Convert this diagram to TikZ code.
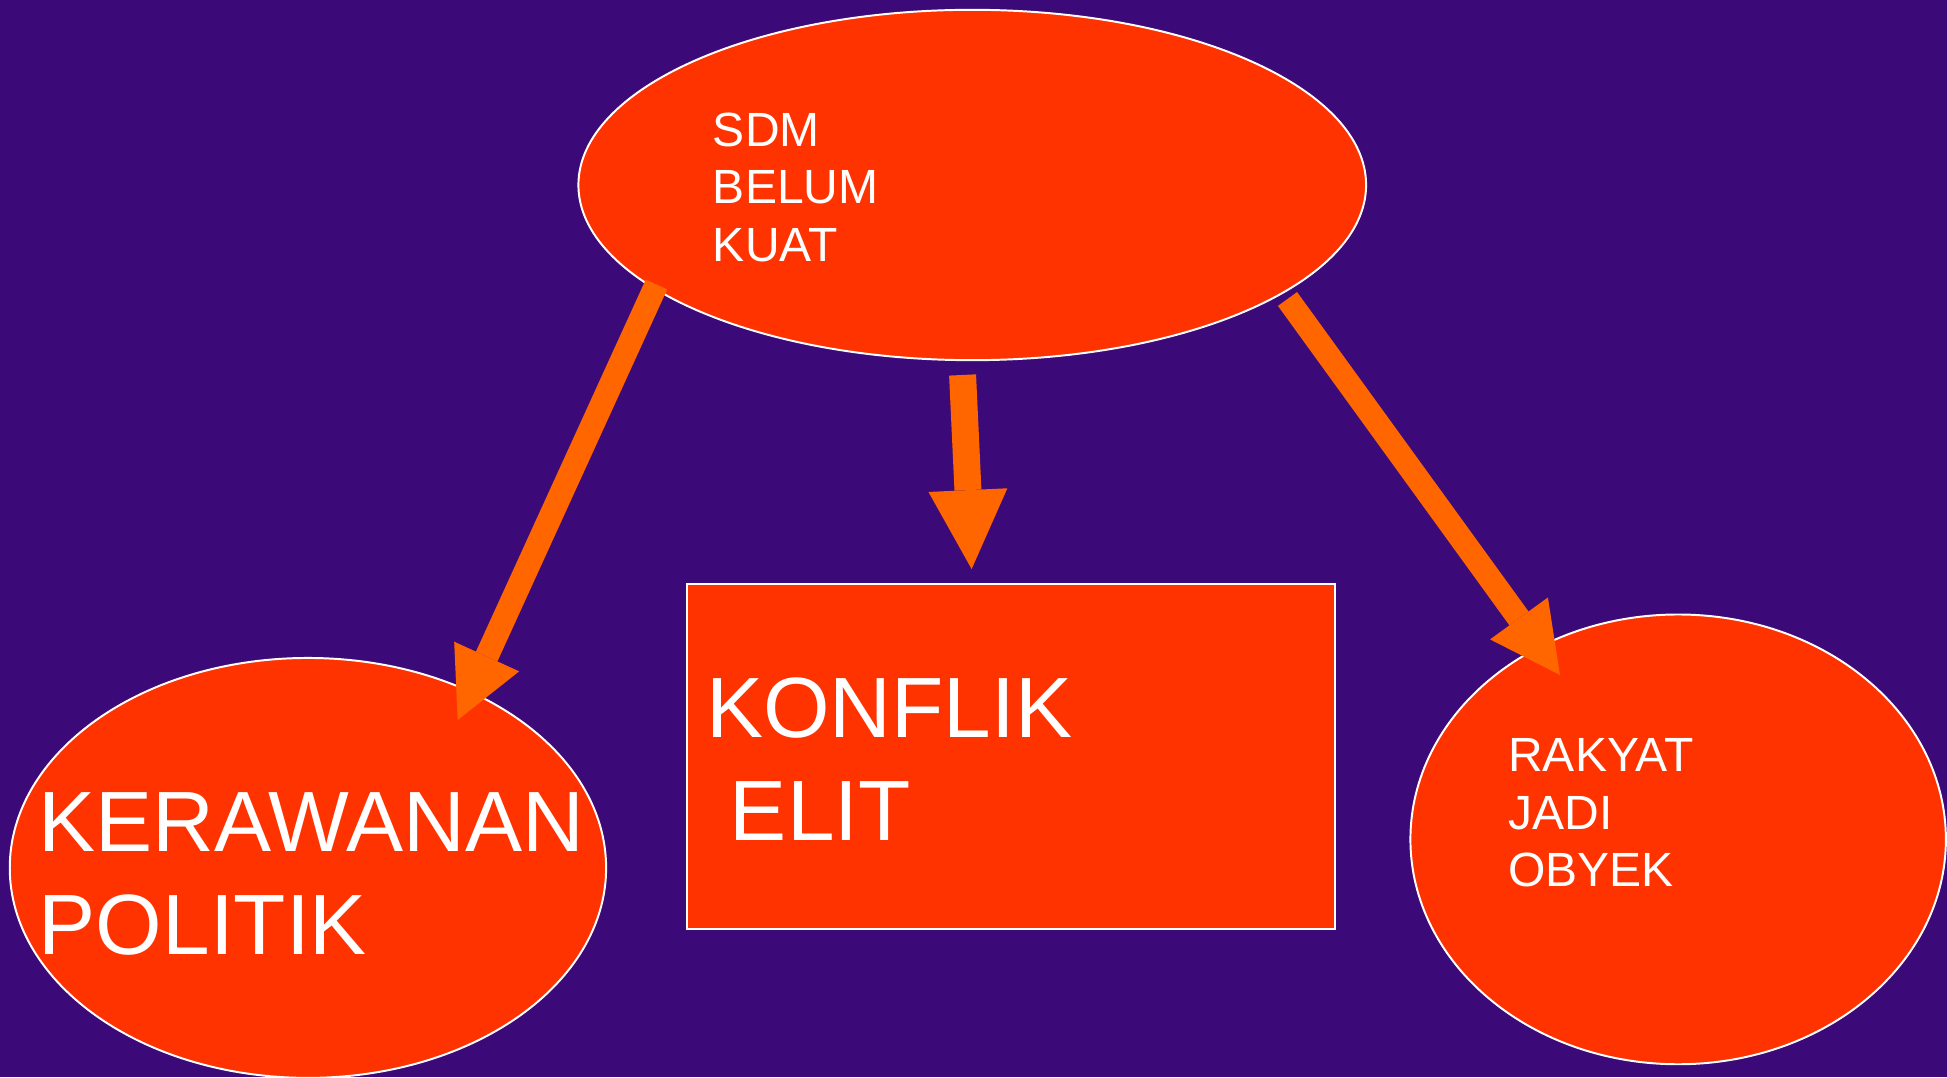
\documentclass[tikz,border=0pt]{standalone}
\usepackage{fontspec}
\setmainfont{Liberation Sans}
\usetikzlibrary{shapes.geometric,arrows.meta}
\definecolor{bgpurple}{RGB}{60,10,120}
\definecolor{boxred}{RGB}{255,51,0}
\definecolor{arroworange}{RGB}{255,102,0}
\tikzset{
  shapeline/.style={draw=white,line width=0.45pt,fill=boxred},
  ovalbox/.style={shapeline,ellipse,inner sep=0pt},
  smalltext/.style={text=white,align=left,inner sep=0pt,anchor=north west,font=\fontsize{11}{13.2}\selectfont},
  bigtext/.style={text=white,align=left,inner sep=0pt,anchor=north west,font=\fontsize{19.6}{23.6}\selectfont},
  sidearrow/.style={draw=arroworange,line width=0.19cm,-{Triangle[length=0.562cm,width=0.575cm,line width=0pt]}},
  midarrow/.style={draw=arroworange,line width=0.217cm,-{Triangle[length=0.636cm,width=0.636cm,line width=0pt]}}
}
\begin{document}
\begin{tikzpicture}[x=0.01cm,y=-0.01cm]
\fill[bgpurple] (0,0) rectangle (1568,867.4);
\useasboundingbox (0,0) rectangle (1568,867.4);
% shapes
\node[ovalbox,minimum width=6.34cm,minimum height=2.82cm] (top) at (783,149) {};
\node[ovalbox,minimum width=4.80cm,minimum height=3.38cm] (left) at (248,699) {};
\node[ovalbox,minimum width=4.31cm,minimum height=3.62cm] (right) at (1351.5,676) {};
\draw[shapeline] (553,470) rectangle (1075,748);
% texts
\node[smalltext] (toptxt) at (573.5,90) {SDM\\BELUM\\KUAT};
\node[smalltext] (righttxt) at (1214,594) {RAKYAT\\JADI\\OBYEK};
\node[bigtext] (midtxt) at (568,545) {KONFLIK\\\hspace*{0.278em}ELIT};
\node[bigtext] (lefttxt) at (30.5,638) {KERAWANAN\\POLITIK};
% arrows
\coordinate (a1s) at (528.7,229.1);
\coordinate (a1e) at (368.6,579.9);
\coordinate (a2s) at (775.2,302);
\coordinate (a2e) at (782.5,458.3);
\coordinate (a3s) at (1036.9,240.8);
\coordinate (a3e) at (1256.3,543.6);
\draw[sidearrow] (a1s) -- (a1e);
\draw[midarrow] (a2s) -- (a2e);
\draw[sidearrow] (a3s) -- (a3e);
\end{tikzpicture}
\end{document}
